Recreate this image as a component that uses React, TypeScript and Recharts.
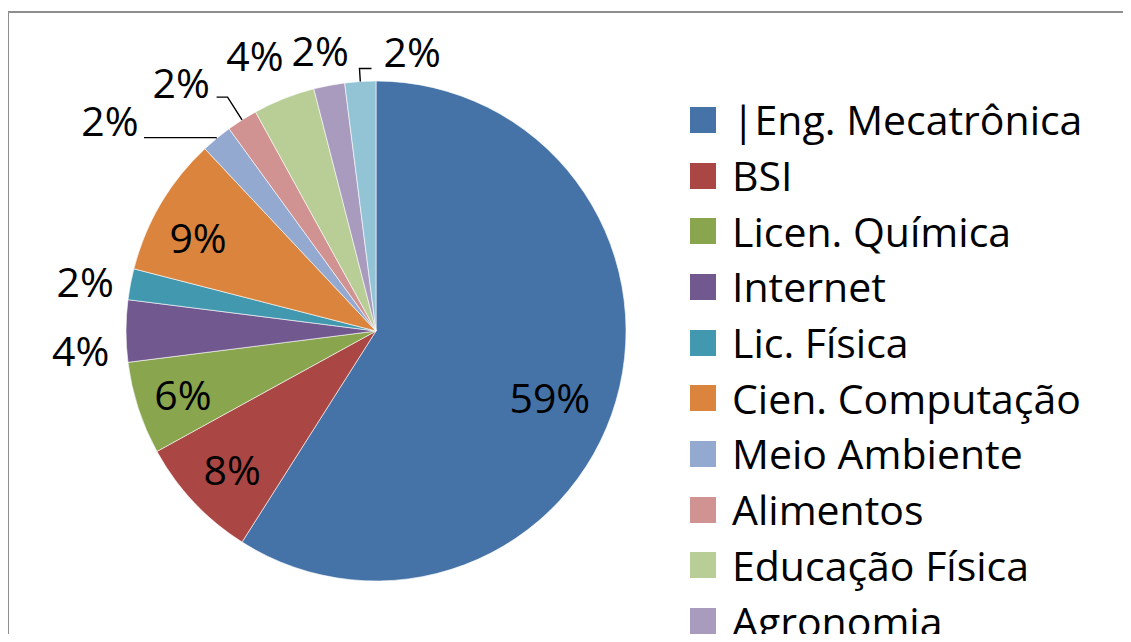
import React from 'react';
import { PieChart, Pie, Cell, Legend } from 'recharts';

const categories = [
  '|Eng. Mecatrônica',
  'BSI',
  'Licen. Química',
  'Internet',
  'Lic. Física',
  'Cien. Computação',
  'Meio Ambiente',
  'Alimentos',
  'Educação Física',
  'Agronomia',
  'Outros',
];
const shares = [59, 8, 6, 4, 2, 9, 2, 2, 4, 2, 2];
const colors = [
  '#4572A7', '#AA4643', '#89A54E', '#71588F', '#4198AF', '#DB843D',
  '#93A9CF', '#D19392', '#B9CD96', '#A99BBD', '#93C4D6',
];

const data = categories.map((name, i) => ({ name, value: shares[i] }));

// label placement relative to each slice: radius ratio, clockwise angle shift (deg)
const labelLayout: any[] = [
  { r: 0.746, da: 5 },
  { r: 0.8, da: -0.8 },
  { r: 0.813, da: -0.3 },
  { r: 1.184, da: -3.9 },
  { r: 1.18, da: -1.2 },
  { r: 0.803, da: -3 },
  { r: 1.356, da: -12.1, leader: { r: 1.004, dx: -72 } },
  { r: 1.26, da: -5.8, leader: { r: 1.108, dx: -11 } },
  { r: 1.2, da: -2.2 },
  { r: 1.14, da: -0.5 },
  { r: 1.124, da: 11, leader: { r: 1.052, dx: 12 } },
];

const FONT = "'Open Sans', sans-serif";
const FS = 41;
const LFS = 41;
const RAD = Math.PI / 180;

function renderLabel(props: any) {
  const { cx, cy, midAngle, outerRadius, percent, index } = props;
  const L = labelLayout[index];
  const a = midAngle - L.da;
  const x = cx + outerRadius * L.r * Math.cos(-a * RAD);
  const y = cy + outerRadius * L.r * Math.sin(-a * RAD);
  let leader = null;
  if (L.leader) {
    const ex = cx + outerRadius * Math.cos(-midAngle * RAD);
    const ey = cy + outerRadius * Math.sin(-midAngle * RAD);
    const bx = cx + outerRadius * L.leader.r * Math.cos(-midAngle * RAD);
    const by = cy + outerRadius * L.leader.r * Math.sin(-midAngle * RAD);
    leader = (
      <polyline
        points={`${ex},${ey} ${bx},${by} ${bx + L.leader.dx},${by}`}
        stroke="#000"
        strokeWidth={1.4}
        fill="none"
      />
    );
  }
  return (
    <g key={`lbl-${index}`}>
      {leader}
      <text
        x={x}
        y={y + 0.36 * FS}
        textAnchor="middle"
        fontSize={FS}
        fontFamily={FONT}
        fill="#000"
      >
        {`${Math.round(percent * 100)}%`}
      </text>
    </g>
  );
}

function renderLegend() {
  return (
    <div>
      {categories.map((name, i) => (
        <div
          key={name}
          style={{ display: 'flex', alignItems: 'center', height: 55.7 }}
        >
          <span
            style={{
              display: 'inline-block',
              width: 26,
              height: 26,
              background: colors[i],
              marginRight: 16,
              flex: 'none',
            }}
          />
          <span
            style={{
              fontSize: LFS,
              fontFamily: FONT,
              color: '#000',
              lineHeight: '1',
              whiteSpace: 'nowrap',
            }}
          >
            {name}
          </span>
        </div>
      ))}
    </div>
  );
}

export default function App() {
  return (
    <div
      style={{
        position: 'relative',
        width: 1131,
        height: 642,
        margin: '-8px 0 -8px -8px',
        overflow: 'hidden',
        background: '#fff',
      }}
    >
      <div
        style={{
          position: 'absolute',
          left: 7,
          top: 11,
          width: 1300,
          height: 1000,
          border: '2px solid #8e8e8e',
        }}
      />
      <div style={{ position: 'absolute', left: 0, top: 0 }}>
        <PieChart
          width={1131}
          height={642}
          margin={{ top: 0, right: 0, bottom: 0, left: 0 }}
        >
          <Pie
            data={data}
            dataKey="value"
            nameKey="name"
            cx={376}
            cy={331}
            outerRadius={250}
            startAngle={90}
            endAngle={-270}
            stroke="#ffffff"
            strokeWidth={0.6}
            label={renderLabel}
            labelLine={false}
            isAnimationActive={false}
          >
            {data.map((d, i) => (
              <Cell key={d.name} fill={colors[i]} />
            ))}
          </Pie>
          <Legend
            layout="vertical"
            align="right"
            verticalAlign="top"
            content={renderLegend}
            wrapperStyle={{ left: 690, top: 92, width: 440 }}
          />
        </PieChart>
      </div>
    </div>
  );
}
